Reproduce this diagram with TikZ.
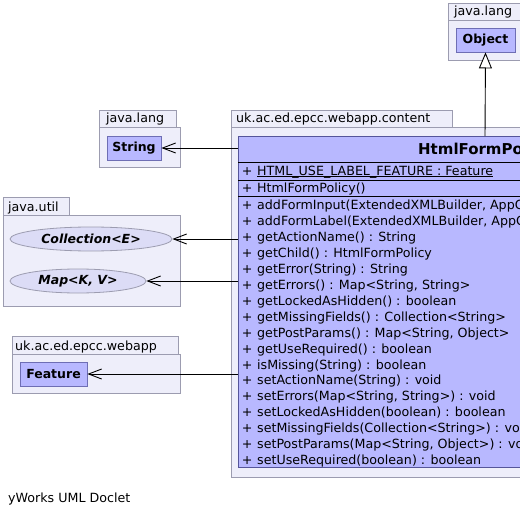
\documentclass[tikz,border=0pt]{standalone}
\usepackage{fontspec}
\setmainfont{DejaVu Sans}
\usetikzlibrary{arrows.meta,shapes.geometric}
\definecolor{pkgfill}{HTML}{EEEEFA}
\definecolor{pkgdraw}{HTML}{9C9CB0}
\definecolor{clsfill}{HTML}{B8B8FF}
\definecolor{clsdraw}{HTML}{55559A}
\definecolor{boxdraw}{HTML}{6E6EB4}
\definecolor{elfill}{HTML}{DCDCF6}
\tikzset{
  pkg/.style={draw=pkgdraw, fill=pkgfill, line width=0.8bp},
  pkglabel/.style={anchor=base west, inner sep=0pt},
  clsbox/.style={draw=boxdraw, fill=clsfill, line width=0.8bp, rectangle, inner sep=0pt, font=\fontsize{12.5bp}{14bp}\selectfont\bfseries},
  elbox/.style={draw=pkgdraw, fill=elfill, line width=0.8bp, ellipse, inner sep=0pt, font=\fontsize{12.5bp}{14bp}\selectfont\bfseries\itshape},
  member/.style={anchor=base west, inner sep=0pt},
  sep/.style={draw=black, line width=0.9bp},
  dep/.style={draw=black, line width=0.9bp, -{Straight Barb[length=13bp, width=10bp, line width=0.9bp]}},
  inh/.style={draw=black, line width=0.9bp, -{Triangle[open, length=16bp, width=13bp, line width=0.9bp, fill=white]}}
}
\begin{document}
\begin{tikzpicture}[x=1bp, y=-1bp, font=\fontsize{12.65bp}{14bp}\selectfont]
\useasboundingbox (0,0) rectangle (520,515);
\clip (0,0) rectangle (520,515);

% java.lang (Object)
\path[pkg] (448,3) rectangle (525,20);
\path[pkg] (448,20) rectangle (523,60);
\node[pkglabel] (lObj) at (454,16) {java.lang};
\node[clsbox, minimum width=59bp, minimum height=24bp] (obj) at (485.5,40) {Object};

% java.lang (String)
\path[pkg] (99,110) rectangle (176,127);
\path[pkg] (99,127) rectangle (180,167);
\node[pkglabel] (lStr) at (106,123) {java.lang};
\node[clsbox, minimum width=54bp, minimum height=24bp] (str) at (134,148) {String};

% java.util
\path[pkg] (3,197) rectangle (69,215);
\path[pkg] (3,215) rectangle (180,306);
\node[pkglabel] (lUtil) at (8,211) {java.util};
\node[elbox, minimum width=162bp, minimum height=24bp] (coll) at (91,239) {Collection<E>};
\node[elbox, minimum width=136bp, minimum height=24bp] (map) at (78,281) {Map<K, V>};

% uk.ac.ed.epcc.webapp
\path[pkg] (12,336) rectangle (178,354);
\path[pkg] (12,354) rectangle (180,393);
\node[pkglabel] (lWeb) at (15,350) {uk.ac.ed.epcc.webapp};
\node[clsbox, minimum width=67bp, minimum height=24bp] (feat) at (53.5,374) {Feature};

% uk.ac.ed.epcc.webapp.content
\path[pkg] (231,110) rectangle (452,127);
\path[pkg] (231,127) rectangle (745,477);
\node[pkglabel] (lCont) at (236,123) {uk.ac.ed.epcc.webapp.content};

% class HtmlFormPolicy
\node[draw=clsdraw, fill=clsfill, line width=0.9bp, rectangle, inner sep=0pt,
      minimum width=494bp, minimum height=330.5bp] (cls) at (485,301.75) {};
\node[inner sep=0pt, anchor=base, font=\fontsize{15bp}{17bp}\selectfont\bfseries] (title) at (485,155) {HtmlFormPolicy};
\draw[sep] (238,162) -- (745,162);
\draw[sep] (238,180) -- (745,180);
\draw[sep] (238,196.5) -- (745,196.5);

\node[member] (aplus) at (241.7,175.2) {+};
\node[member] (attr) at (257,175.2) {HTML\_USE\_LABEL\_FEATURE : Feature};
\draw[black, line width=0.8bp] ([yshift=-1.6bp]attr.base west) -- ([yshift=-1.6bp]attr.base east);
\node[member] (cplus) at (241.7,192.5) {+};
\node[member] (ctor) at (257,192.5) {HtmlFormPolicy()};

\foreach \t [count=\i] in {
  {addFormInput(ExtendedXMLBuilder, AppContext)},
  {addFormLabel(ExtendedXMLBuilder, AppContext)},
  {getActionName() : String},
  {getChild() : HtmlFormPolicy},
  {getError(String) : String},
  {getErrors() : Map<String, String>},
  {getLockedAsHidden() : boolean},
  {getMissingFields() : Collection<String>},
  {getPostParams() : Map<String, Object>},
  {getUseRequired() : boolean},
  {isMissing(String) : boolean},
  {setActionName(String) : void},
  {setErrors(Map<String, String>) : void},
  {setLockedAsHidden(boolean) : boolean},
  {setMissingFields(Collection<String>) : void},
  {setPostParams(Map<String, Object>) : void},
  {setUseRequired(boolean) : boolean}} {
  \node[member] (mp\i) at (241.7,{209.7+15.93*(\i-1)}) {+};
  \node[member] (m\i) at (257,{209.7+15.93*(\i-1)}) {\t};
}

% connectors
\draw[inh] (cls.north) -- (obj.south);
\draw[dep] (cls.west |- str.east) -- (str.east);
\draw[dep] (cls.west |- coll.east) -- (coll.east);
\draw[dep] (cls.west |- map.east) -- (map.east);
\draw[dep] (cls.west |- feat.east) -- (feat.east);

\node[anchor=base west, inner sep=0pt] (credit) at (8,502) {yWorks UML Doclet};
\end{tikzpicture}
\end{document}
